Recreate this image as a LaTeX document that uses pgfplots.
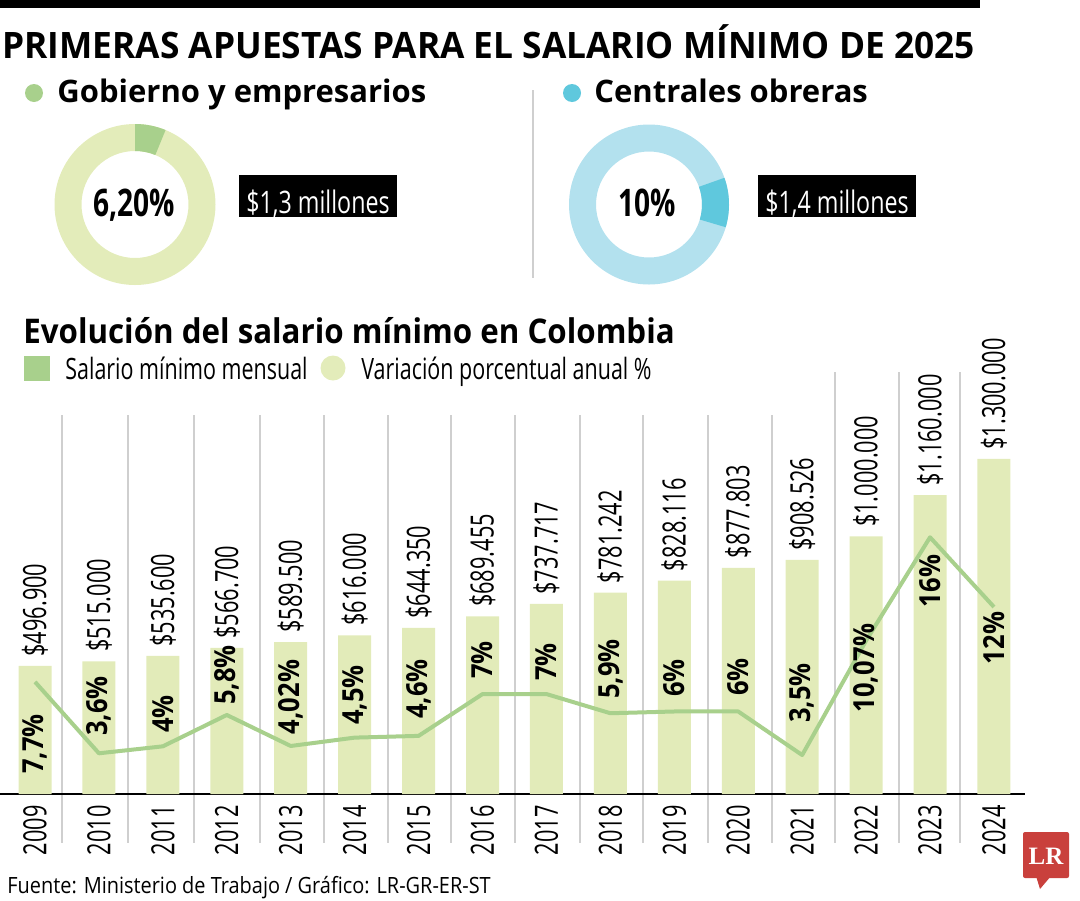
\documentclass[border=0pt]{standalone}
\usepackage{pgfplots}
\pgfplotsset{compat=1.18}
\usepackage{pgfplotstable}
\usepackage{fontspec}
\setmainfont{Open Sans}
\newfontfamily\fTitle[FakeStretch=0.97]{Open Sans}
\newfontfamily\fB[FakeStretch=0.92]{Open Sans}
\newfontfamily\fCond[FakeStretch=0.68]{Open Sans}
\newfontfamily\fLeg[FakeStretch=0.73]{Open Sans}
\newfontfamily\fPct[FakeStretch=0.88]{Open Sans}
\newfontfamily\fDon[FakeStretch=0.74]{Open Sans}
\newfontfamily\fBox[FakeStretch=0.75]{Open Sans}
\newfontfamily\fSrc[FakeStretch=0.89]{Open Sans}
\newfontfamily\lrfont{Liberation Serif}

\definecolor{barcol}{HTML}{E2EBB9}
\definecolor{linecol}{HTML}{A8D08C}
\definecolor{lgreen}{HTML}{E3ECBA}
\definecolor{dgreen}{HTML}{A8D08C}
\definecolor{lblue}{HTML}{B3E1EE}
\definecolor{dblue}{HTML}{5FC8DD}
\definecolor{sepcol}{HTML}{CFCFCF}
\definecolor{lrred}{HTML}{C9403C}

\pgfplotstableread{
year sal lab
2009 496.9 496.900
2010 515 515.000
2011 535.6 535.600
2012 566.7 566.700
2013 589.5 589.500
2014 616 616.000
2015 644.35 644.350
2016 689.455 689.455
2017 737.717 737.717
2018 781.242 781.242
2019 828.116 828.116
2020 877.803 877.803
2021 908.526 908.526
2022 1000 1.000.000
2023 1160 1.160.000
2024 1300 1.300.000
}\salaries

\pgfplotstableread{
year pct lpos lab
2009 7.7 4.13 7,7
2010 3.6 6.32 3,6
2011 4 5.86 4
2012 5.8 8.09 5,8
2013 4.02 6.83 4,02
2014 4.5 6.95 4,5
2015 4.6 7.29 4,6
2016 7 8.96 7
2017 7 8.84 7
2018 5.9 8.44 5,9
2019 6 7.92 6
2020 6 7.98 6
2021 3.5 7.06 3,5
2022 10.07 8.50 10,07
2023 16 13.49 16
2024 12 10.22 12
}\pcts

\def\govpct{6.2}
\def\cenpct{10}

\begin{document}
\begin{tikzpicture}[x=0.5pt,y=-0.5pt]
\useasboundingbox (0,0) rectangle (1080,900);
% header
\fill[black] (0,0) rectangle (980,8);
\node[anchor=base west, inner sep=0pt, font=\fTitle\bfseries\fontsize{18.2}{20}\selectfont] at (2,58) {PRIMERAS APUESTAS PARA EL SALARIO MÍNIMO DE 2025};
\fill[dgreen] (34,93) circle[radius=9];
\node[anchor=base west, inner sep=0pt, font=\bfseries\fontsize{15.5}{18}\selectfont] at (57,102) {Gobierno y empresarios};
\fill[dblue] (572,93) circle[radius=9];
\node[anchor=base west, inner sep=0pt, font=\bfseries\fontsize{15.5}{18}\selectfont] at (594,102) {Centrales obreras};
\draw[sepcol, line width=0.75pt] (533,90) -- (533,278);

% donut 1
\coordinate (d1) at (135,204.5);
\begin{axis}[at={(d1)}, anchor=center, hide axis, scale only axis, width=80.5pt, height=80.5pt,
  xmin=-1, xmax=1, ymin=-1, ymax=1, clip=false]
\addplot[draw=none, mark=none] coordinates {(0,0)};
\pgfmathsetmacro\angA{90-3.6*\govpct}
\fill[lgreen, even odd rule] (axis cs:0,0) circle[radius=40.25pt] (axis cs:0,0) circle[radius=26.75pt];
\fill[dgreen] (axis cs:0,0) ++(90:40.25pt) arc[start angle=90, end angle=\angA, radius=40.25pt]
   -- ++(\angA:-13.5pt) arc[start angle=\angA, end angle=90, radius=26.75pt] -- cycle;
\end{axis}
\node[anchor=base, inner sep=0pt, font=\fDon\bfseries\fontsize{19}{20}\selectfont] at (134,216) {6,20\%};
\fill[black] (239,175) rectangle (397,217);
\node[anchor=base, inner sep=0pt, text=white, font=\fBox\fontsize{15.5}{16}\selectfont] at (318,213) {\$1,3 millones};

% donut 2
\coordinate (d2) at (649,204.5);
\begin{axis}[at={(d2)}, anchor=center, hide axis, scale only axis, width=80.5pt, height=80.5pt,
  xmin=-1, xmax=1, ymin=-1, ymax=1, clip=false]
\addplot[draw=none, mark=none] coordinates {(0,0)};
\pgfmathsetmacro\angB{19.5-3.6*\cenpct}
\fill[lblue, even odd rule] (axis cs:0,0) circle[radius=40pt] (axis cs:0,0) circle[radius=26.5pt];
\fill[dblue] (axis cs:0,0) ++(19.5:40pt) arc[start angle=19.5, end angle=\angB, radius=40pt]
   -- ++(\angB:-13.5pt) arc[start angle=\angB, end angle=19.5, radius=26.5pt] -- cycle;
\end{axis}
\node[anchor=base, inner sep=0pt, font=\fDon\bfseries\fontsize{19}{20}\selectfont] at (647.5,216) {10\%};
\fill[black] (758,175) rectangle (916,217);
\node[anchor=base, inner sep=0pt, text=white, font=\fBox\fontsize{15.5}{16}\selectfont] at (837,213) {\$1,4 millones};

% chart title and legend
\node[anchor=base west, inner sep=0pt, font=\fB\bfseries\fontsize{17}{20}\selectfont] at (23,343) {Evolución del salario mínimo en Colombia};
\fill[dgreen] (24,356) rectangle (50,381);
\node[anchor=base west, inner sep=0pt, font=\fLeg\fontsize{14.7}{16}\selectfont] at (65,379) {Salario mínimo mensual};
\fill[lgreen] (333,368) circle[radius=12.5];
\node[anchor=base west, inner sep=0pt, font=\fLeg\fontsize{14.7}{16}\selectfont] at (361,379) {Variación porcentual anual \%};

% separators
\foreach \p in {62,128,194,260,324,388,451,515,580,643,708,772}
  \draw[sepcol, line width=1pt] (\p,415) -- (\p,843);
\foreach \p in {835,899,960}
  \draw[sepcol, line width=0.8pt] (\p,372) -- (\p,843);

\coordinate (o) at (0,794);
\begin{axis}[at={(o)}, anchor=south west, scale only axis, width=512.5pt, height=227pt,
  xmin=2008.4525, xmax=2024.4855, ymin=0, ymax=1761.7,
  axis x line=bottom, axis y line=none, axis line style={black, line width=0.65pt, -},
  xtick={2009,2010,2011,2012,2013,2014,2015,2016,2017,2018,2019,2020,2021,2022,2023,2024},
  xticklabels={2009,2010,2011,2012,2013,2014,2015,2016,2017,2018,2019,2020,2021,2022,2023,2024},
  major tick length=0pt,
  xticklabel style={rotate=90, anchor=east, inner sep=0pt, font=\fCond\fontsize{16}{16}\selectfont},
  xticklabel shift=5.5pt,
  clip=false, ybar, bar width=16.5pt,
  nodes near coords={\$\pgfplotspointmeta}, point meta=explicit symbolic,
  every node near coord/.append style={rotate=90, anchor=west, inner xsep=4.5pt, inner ysep=0pt, text=black, font=\fCond\fontsize{16}{16}\selectfont}]
\addplot[fill=barcol, draw=none] table[x=year, y=sal, meta=lab] {\salaries};
\end{axis}

\begin{axis}[at={(o)}, anchor=south west, scale only axis, width=512.5pt, height=227pt,
  xmin=2008.4525, xmax=2024.4855, ymin=1.263, ymax=27.325, hide axis, clip=false]
\addplot[linecol, line width=2pt, mark=none, line join=round] table[x=year, y=pct] {\pcts};
\addplot[draw=none, mark=none, nodes near coords={\pgfplotspointmeta\%}, point meta=explicit symbolic,
  every node near coord/.append style={rotate=90, anchor=center, inner sep=0pt, text=black, font=\fPct\bfseries\fontsize{14.5}{15}\selectfont}]
  table[x=year, y=lpos, meta=lab] {\pcts};
\end{axis}

% source and logo
\node[anchor=base west, inner sep=0pt, font=\fSrc\fontsize{11.2}{12}\selectfont] at (7,893) {Fuente: Ministerio de Trabajo / Gráfico: LR-GR-ER-ST};
\fill[lrred, rounded corners=1pt] (1023,832) rectangle (1069,878);
\fill[lrred] (1036,876) -- (1051,876) -- (1040,889) -- cycle;
\node[text=white, inner sep=0pt, font=\lrfont\bfseries\fontsize{12.5}{13}\selectfont] at (1046,856) {LR};
\end{tikzpicture}
\end{document}
